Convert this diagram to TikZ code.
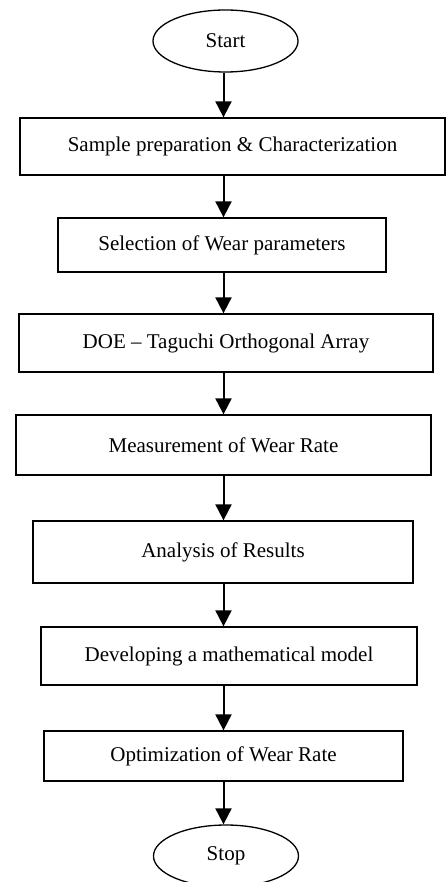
\documentclass[tikz,border=0pt]{standalone}
\usepackage{fontspec}
\setmainfont{Liberation Serif}
\usepackage{tikz}
\usetikzlibrary{positioning, arrows.meta, calc, shapes.geometric}

\begin{document}
\begin{tikzpicture}[
  x=1pt, y=-1pt,
  every node/.style={draw, line width=1.3pt, inner sep=0pt,
    font=\fontsize{21}{25}\selectfont},
  stepbox/.style={rectangle},
  termnode/.style={ellipse, minimum width=145pt, minimum height=62pt},
  flowarrow/.style={line width=2pt, -{Triangle[width=16pt, length=16pt]}}
]
\useasboundingbox (0,0) rectangle (446,882);

\coordinate (spine) at (223.5,0);

\node (start) at (225.5,41) [termnode] {Start};

\node (s1) at (232.5,146.5) [stepbox, minimum width=425pt, minimum height=57pt]
  {Sample preparation \& Characterization};
\node (s2) at (222,245) [stepbox, minimum width=328pt, minimum height=54pt]
  {Selection of Wear parameters};
\node (s3) at (226,343) [stepbox, minimum width=414pt, minimum height=58pt]
  {DOE -- Taguchi Orthogonal Array};
\node (s4) at (223.5,445) [stepbox, minimum width=415pt, minimum height=60pt]
  {Measurement of Wear Rate};
\node (s5) at (223,552) [stepbox, minimum width=380pt, minimum height=62pt]
  {Analysis of Results};
\node (s6) at (229,656) [stepbox, minimum width=376pt, minimum height=58pt]
  {Developing a mathematical model};
\node (s7) at (223.5,756) [stepbox, minimum width=359pt, minimum height=50pt]
  {Optimization of Wear Rate};

\node (stop) at (226,856) [termnode] {Stop};

\draw[flowarrow] (start.south -| spine) -- (s1.north -| spine);
\draw[flowarrow] (s1.south -| spine) -- (s2.north -| spine);
\draw[flowarrow] (s2.south -| spine) -- (s3.north -| spine);
\draw[flowarrow] (s3.south -| spine) -- (s4.north -| spine);
\draw[flowarrow] (s4.south -| spine) -- (s5.north -| spine);
\draw[flowarrow] (s5.south -| spine) -- (s6.north -| spine);
\draw[flowarrow] (s6.south -| spine) -- (s7.north -| spine);
\draw[flowarrow] (s7.south -| spine) -- (stop.north -| spine);

\end{tikzpicture}
\end{document}
